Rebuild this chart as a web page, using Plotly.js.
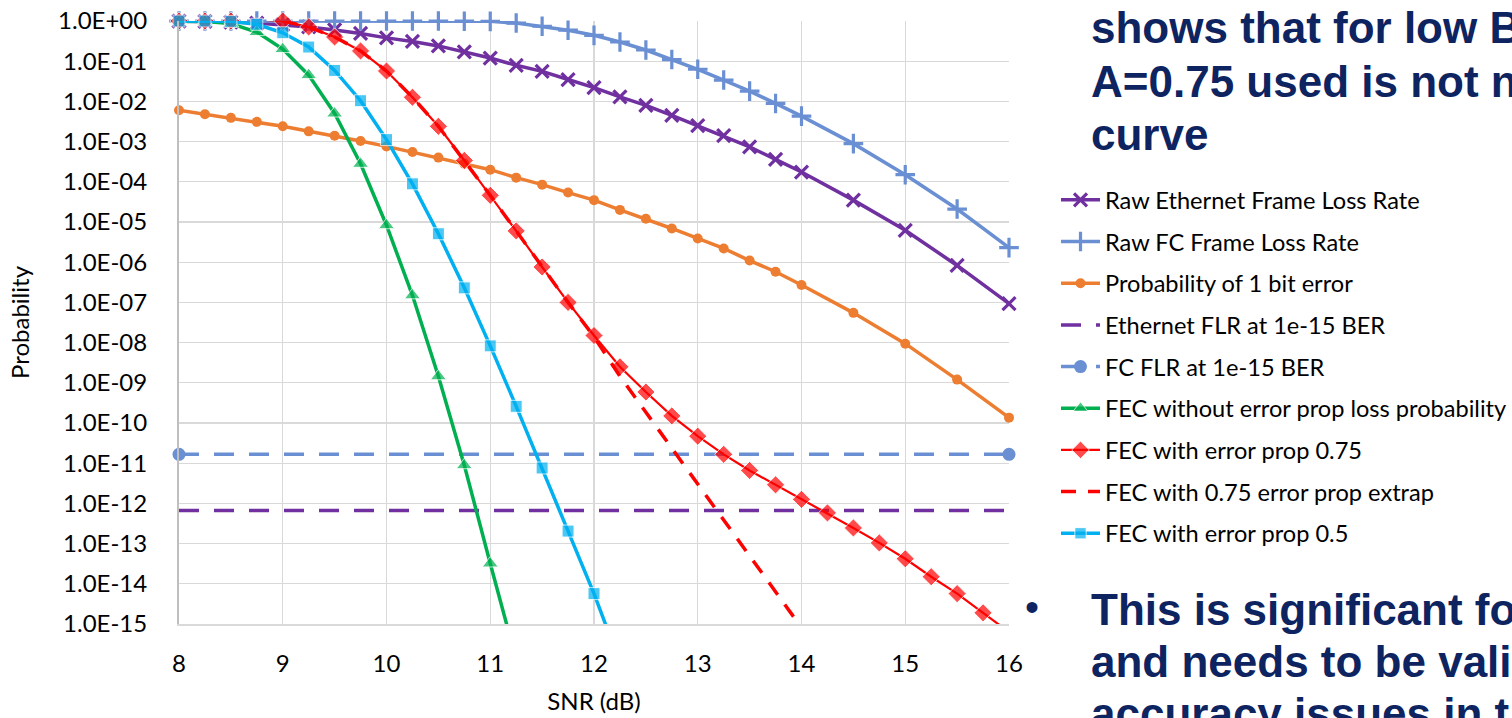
<!DOCTYPE html>
<html>
<head>
<meta charset="utf-8">
<script src="https://cdn.plot.ly/plotly-3.0.1.min.js"></script>
<style>
  html, body { margin: 0; padding: 0; background: #fff; overflow: hidden; }
  #chart { width: 1512px; height: 718px; }
</style>
</head>
<body>
<div id="chart"></div>
<script>
// SNR grids (dB)
const snrFrame = [8, 8.25, 8.5, 8.75, 9, 9.25, 9.5, 9.75, 10, 10.25, 10.5, 10.75, 11, 11.25, 11.5, 11.75,
                  12, 12.25, 12.5, 12.75, 13, 13.25, 13.5, 13.75, 14, 14.5, 15, 15.5, 16];
const snrFull = [8, 8.25, 8.5, 8.75, 9, 9.25, 9.5, 9.75, 10, 10.25, 10.5, 10.75, 11, 11.25, 11.5, 11.75,
                 12, 12.25, 12.5, 12.75, 13, 13.25, 13.5, 13.75, 14, 14.25, 14.5, 14.75, 15, 15.25, 15.5, 15.75, 16];
const snrNoProp = [8, 8.25, 8.5, 8.75, 9, 9.25, 9.5, 9.75, 10, 10.25, 10.5, 10.75, 11, 11.25];
const snrProp05 = [8, 8.25, 8.5, 8.75, 9, 9.25, 9.5, 9.75, 10, 10.25, 10.5, 10.75, 11, 11.25, 11.5, 11.75, 12, 12.25];
const snrExtrap = [9, 9.25, 9.5, 9.75, 10, 10.25, 10.5, 10.75, 11, 11.25, 11.5, 11.75,
                   12, 12.25, 12.5, 12.75, 13, 13.25, 13.5, 13.75, 14];
const snrFlr = [8, 16];

// Probabilities
const rawEthernetFLR = [0.99, 0.98, 0.94, 0.89, 0.81, 0.71, 0.60, 0.49, 0.38, 0.31, 0.24, 0.17, 0.12, 0.079, 0.056, 0.035,
                        0.022, 0.0129, 0.008, 0.0045, 0.0025, 0.0014, 7.4e-4, 3.6e-4, 1.75e-4, 3.5e-5, 6.2e-6, 8.3e-7, 9.3e-8];
const rawFcFLR = [1.0, 1.0, 1.0, 1.0, 1.0, 1.0, 1.0, 1.0, 1.0, 0.999, 0.997, 0.99, 0.98, 0.89, 0.74, 0.59,
                  0.44, 0.30, 0.19, 0.11, 0.063, 0.034, 0.018, 0.0089, 0.0043, 8.9e-4, 1.5e-4, 2.1e-5, 2.3e-6];
const oneBitError = [6.0e-3, 4.8e-3, 3.9e-3, 3.1e-3, 2.4e-3, 1.8e-3, 1.4e-3, 1.04e-3, 7.6e-4, 5.5e-4, 4.0e-4, 2.8e-4, 2.0e-4, 1.27e-4, 8.5e-5, 5.4e-5,
                     3.5e-5, 2.0e-5, 1.2e-5, 6.9e-6, 3.9e-6, 2.2e-6, 1.1e-6, 5.8e-7, 2.7e-7, 5.5e-8, 9.4e-9, 1.2e-9, 1.36e-10];
const ethernetFlrAtBer = [6.7e-13, 6.7e-13];
const fcFlrAtBer = [1.66e-11, 1.66e-11];
const fecNoProp = [0.99, 0.97, 0.86, 0.53, 0.20, 0.045, 5.0e-3, 2.8e-4, 8.3e-6, 1.5e-7, 1.45e-9, 8.9e-12, 3.2e-14, 1.3e-16];
const fecProp075 = [1.0, 1.0, 1.0, 1.1, 1.0, 0.71, 0.40, 0.18, 0.057, 0.0127, 2.4e-3, 3.4e-4, 4.6e-5, 6.0e-6, 7.6e-7, 1.0e-7,
                    1.5e-8, 2.5e-9, 5.9e-10, 1.5e-10, 4.7e-11, 1.66e-11, 6.6e-12, 2.9e-12, 1.26e-12, 5.8e-13, 2.45e-13, 1.04e-13,
                    4.2e-14, 1.5e-14, 5.7e-15, 1.9e-15, 6.3e-16];
const fecProp075Extrap = [1.0, 0.71, 0.40, 0.18, 0.057, 0.0127, 2.4e-3, 3.4e-4, 4.6e-5, 6.0e-6, 7.6e-7, 1.0e-7,
                          1.4e-8, 1.45e-9, 1.85e-10, 2.4e-11, 3.0e-12, 3.9e-13, 4.9e-14, 6.3e-15, 8.1e-16];
const fecProp05 = [1.0, 1.0, 0.98, 0.83, 0.51, 0.225, 0.059, 0.0104, 1.12e-3, 8.9e-5, 5.1e-6, 2.3e-7, 8.3e-9, 2.6e-10,
                   7.6e-12, 2.05e-13, 5.7e-15, 1.1e-16];

// Axis ticks
const yTickVals = [1e0, 1e-1, 1e-2, 1e-3, 1e-4, 1e-5, 1e-6, 1e-7, 1e-8, 1e-9, 1e-10, 1e-11, 1e-12, 1e-13, 1e-14, 1e-15];
const yTickText = ['1.0E+00', '1.0E-01', '1.0E-02', '1.0E-03', '1.0E-04', '1.0E-05', '1.0E-06', '1.0E-07',
                   '1.0E-08', '1.0E-09', '1.0E-10', '1.0E-11', '1.0E-12', '1.0E-13', '1.0E-14', '1.0E-15'];
const xTickVals = [8, 9, 10, 11, 12, 13, 14, 15, 16];

// Slide text beside the chart
const headLines = ['shows that for low B', 'A=0.75 used is not n', 'curve'];
const bulletLines = ['This is significant fo', 'and needs to be vali', 'accuracy issues in t'];

const Y_MIN = 1e-15;
const FONT = 'Lato, "DejaVu Sans", sans-serif';
const NAVY = '#0E2461';
const AXIS_FONT = { family: FONT, size: 24, color: '#000' };

// marker sizes: points below the axis floor carry no visible marker
const sizes = (vals, s) => vals.map(v => (v < Y_MIN ? 0 : s));

const traces = [
  { name: 'Raw Ethernet Frame Loss Rate', x: snrFrame, y: rawEthernetFLR, mode: 'lines+markers',
    line: { color: '#7030A0', width: 3.5 },
    marker: { symbol: 'x-thin', size: 13, color: '#7030A0', line: { color: '#7030A0', width: 3.2 } } },
  { name: 'Raw FC Frame Loss Rate', x: snrFrame, y: rawFcFLR, mode: 'lines+markers',
    line: { color: '#6A8FD3', width: 3.5 },
    marker: { symbol: 'cross-thin', size: 14, color: '#6A8FD3', line: { color: '#6A8FD3', width: 3.2 } } },
  { name: 'Probability of 1 bit error', x: snrFrame, y: oneBitError, mode: 'lines+markers',
    line: { color: '#ED7D31', width: 3.5 },
    marker: { symbol: 'circle', size: 10, color: '#ED7D31' } },
  { name: 'Ethernet FLR at 1e-15 BER', x: snrFlr, y: ethernetFlrAtBer, mode: 'lines',
    line: { color: '#7030A0', width: 3.5, dash: '20px,15px' } },
  { name: 'FC FLR at 1e-15 BER', x: snrFlr, y: fcFlrAtBer, mode: 'lines+markers',
    line: { color: '#6A8FD3', width: 3.5, dash: '20px,15px' },
    marker: { symbol: 'circle', size: 13, color: '#6A8FD3' } },
  { name: 'FEC without error prop loss probability', x: snrNoProp, y: fecNoProp, mode: 'lines+markers',
    line: { color: '#00B050', width: 3.5 },
    marker: { symbol: 'triangle-up', size: sizes(fecNoProp, 14), color: '#00B050' } },
  { name: 'FEC with error prop 0.75', x: snrFull, y: fecProp075, mode: 'lines+markers',
    line: { color: '#FF0000', width: 2.2 },
    marker: { symbol: 'diamond', size: sizes(fecProp075, 14), color: '#FF0000' } },
  { name: 'FEC with 0.75 error prop extrap', x: snrExtrap, y: fecProp075Extrap, mode: 'lines',
    line: { color: '#FF0000', width: 3.5, dash: '15px,12px' } },
  { name: 'FEC with error prop 0.5', x: snrProp05, y: fecProp05, mode: 'lines+markers',
    line: { color: '#00B0F0', width: 3.5 },
    marker: { symbol: 'square', size: sizes(fecProp05, 12), color: '#00B0F0' } }
].map((t, i) => Object.assign(t, { type: 'scatter', cliponaxis: false, legendgroup: 'g' + i, hoverinfo: 'skip' }));

const W = 1512, H = 718;
const M = { l: 179, r: 503, t: 21, b: 94, autoexpand: false };
const PW = W - M.l - M.r, PH = H - M.t - M.b;
const paperX = px => (px - M.l) / PW;
const paperY = py => (H - M.b - py) / PH;

const SLIDE_FONT = { family: '"Liberation Sans", Arial, sans-serif', size: 44, color: NAVY, weight: 700 };
const annotations = [];
headLines.forEach((txt, i) => annotations.push({
  text: txt, xref: 'paper', yref: 'paper', x: paperX(1089), y: paperY(28 + i * 53),
  xanchor: 'left', yanchor: 'middle', showarrow: false, font: SLIDE_FONT
}));
bulletLines.forEach((txt, i) => annotations.push({
  text: txt, xref: 'paper', yref: 'paper', x: paperX(1089), y: paperY(609 + i * 52),
  xanchor: 'left', yanchor: 'middle', showarrow: false, font: SLIDE_FONT
}));
annotations.push({
  text: '•', xref: 'paper', yref: 'paper', x: paperX(1032), y: paperY(607),
  xanchor: 'center', yanchor: 'middle', showarrow: false,
  font: { family: '"Liberation Sans", Arial, sans-serif', size: 40, color: NAVY }
});

const layout = {
  width: W, height: H,
  margin: M,
  paper_bgcolor: '#ffffff', plot_bgcolor: '#ffffff',
  font: { family: FONT, size: 24, color: '#000000' },
  showlegend: true,
  legend: {
    x: paperX(1056), y: paperY(178), xanchor: 'left', yanchor: 'top',
    font: { family: FONT, size: 23.6, color: '#000000' },
    itemwidth: 39, tracegroupgap: 8, bgcolor: 'rgba(0,0,0,0)', borderwidth: 0
  },
  xaxis: {
    type: 'linear', range: [8, 16], tickvals: xTickVals, ticks: '',
    showgrid: true, gridcolor: '#D9D9D9', gridwidth: 1.3,
    showline: true, linecolor: '#D9D9D9', linewidth: 1.5, mirror: false,
    zeroline: false, ticklabelstandoff: 18,
    tickfont: AXIS_FONT,
    title: { text: 'SNR (dB)', font: AXIS_FONT, standoff: 17 }
  },
  yaxis: {
    type: 'log', range: [-15, 0], tickvals: yTickVals, ticktext: yTickText, ticks: '',
    showgrid: true, gridcolor: '#D9D9D9', gridwidth: 1.3,
    showline: true, linecolor: '#BFBFBF', linewidth: 2,
    zeroline: false, ticklabelstandoff: 25,
    tickfont: AXIS_FONT,
    title: { text: 'Probability', font: AXIS_FONT, standoff: 22 }
  },
  annotations: annotations
};

Plotly.newPlot('chart', traces, layout, { staticPlot: true, displayModeBar: false });
</script>
</body>
</html>
